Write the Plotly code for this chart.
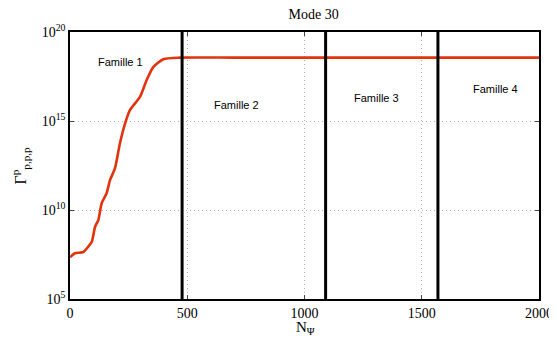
import plotly.graph_objects as go

# Data
n_psi = [0, 21, 57, 78, 93, 107, 121, 135, 156, 171, 192, 213, 235, 256, 299, 327, 355, 398, 469, 700, 1000, 1500, 2000]
log_gamma = [7.35, 7.57, 7.64, 7.94, 8.22, 9.06, 9.44, 10.38, 10.94, 11.69, 12.35, 13.75, 14.87, 15.62, 16.37, 17.3, 18.03, 18.47, 18.56, 18.56, 18.56, 18.56, 18.56]
gamma = [10 ** v for v in log_gamma]

family_bounds = [478, 1090, 1569]
family_labels = ["Famille 1", "Famille 2", "Famille 3", "Famille 4"]
family_label_x = [215, 710, 1305, 1815]
family_label_logy = [18.3, 15.9, 16.3, 16.8]

y_tickvals = [1e5, 1e10, 1e15, 1e20]
y_ticktext = ["10<sup>5</sup>", "10<sup>10</sup>", "10<sup>15</sup>", "10<sup>20</sup>"]
x_tickvals = [0, 500, 1000, 1500, 2000]

serif = "Liberation Serif, Times New Roman"

fig = go.Figure()
fig.add_trace(go.Scatter(x=n_psi, y=gamma, mode="lines",
                         line=dict(color="#e2340c", width=2.6, shape="spline", smoothing=0.6),
                         showlegend=False))

for b in family_bounds:
    fig.add_shape(type="line", x0=b, x1=b, y0=0, y1=1, xref="x", yref="paper",
                  line=dict(color="black", width=3))

for lab, lx, ly in zip(family_labels, family_label_x, family_label_logy):
    fig.add_annotation(x=lx, y=ly, text=lab, showarrow=False, xref="x", yref="y",
                       font=dict(family="Liberation Sans, Arial", size=11, color="black"))

# axis titles
fig.add_annotation(text="N<sub>Ψ</sub>", xref="paper", yref="paper", x=0.503, y=0,
                   xanchor="center", yanchor="top", yshift=-18, showarrow=False,
                   font=dict(family=serif, size=15, color="black"))
fig.add_annotation(text="Γ<sup>p</sup><sub>p,p,p</sub>", xref="paper", yref="paper", x=0, y=0.5,
                   xanchor="center", yanchor="middle", xshift=-50, textangle=-90, showarrow=False,
                   font=dict(family=serif, size=16, color="black"))

# page body has an 8px default margin, so the figure is sized/offset to compensate
fig.update_layout(
    width=541, height=327,
    margin=dict(l=62, r=10, t=24, b=36, autoexpand=False),
    paper_bgcolor="white", plot_bgcolor="white",
    title=dict(text="Mode 30", x=0.565, xanchor="center", y=1 - 6 / 327, yanchor="middle",
               yref="container", automargin=False,
               font=dict(family=serif, size=14, color="black")),
    font=dict(family=serif, size=14, color="black"),
)
fig.update_xaxes(range=[0, 2000], tickvals=x_tickvals, ticks="inside", ticklen=4,
                 showline=True, linecolor="black", linewidth=1.5, mirror="ticks",
                 showgrid=True, gridcolor="#b0b0b0", griddash="1px,3px", gridwidth=1,
                 zeroline=False, automargin=False, ticklabeloverflow="allow")
fig.update_yaxes(type="log", range=[5, 20], tickvals=y_tickvals, ticktext=y_ticktext,
                 ticks="inside", ticklen=4,
                 showline=True, linecolor="black", linewidth=1.5, mirror="ticks",
                 showgrid=True, gridcolor="#b0b0b0", griddash="1px,3px", gridwidth=1,
                 zeroline=False, automargin=False, ticklabeloverflow="allow")

fig.write_html("out.html")
